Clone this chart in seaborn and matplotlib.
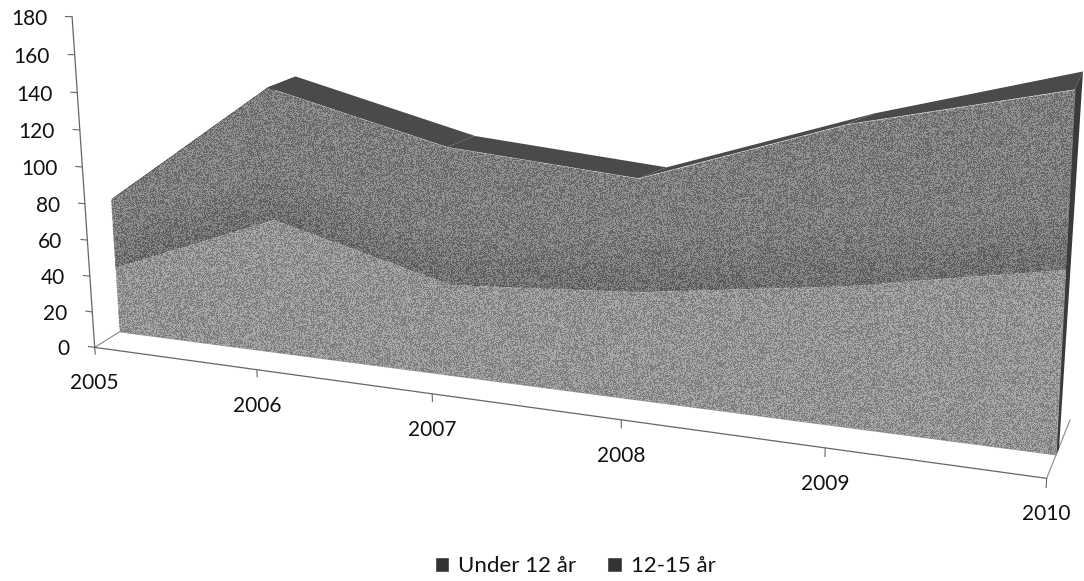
import numpy as np
import matplotlib
matplotlib.use("Agg")
import matplotlib.pyplot as plt
from matplotlib.patches import Patch, Polygon
from matplotlib.transforms import Transform
import seaborn as sns

years = [2005, 2006, 2007, 2008, 2009, 2010]
under_12 = [37, 72, 47, 53, 65, 81]
age_12_15 = [38, 69, 69, 54, 72, 75]
y_ticks = [0, 20, 40, 60, 80, 100, 120, 140, 160, 180]
series_names = ["Under 12 år", "12-15 år"]

sns.set_theme(style="white")
plt.rcParams["font.family"] = ["Lato", "DejaVu Sans"]

# Camera of the 3D view: (year fraction, depth, value fraction) -> pixel
cal_world = np.array([[0, 0, 0], [1, 0, 0], [0, 0, 1], [0, 1, 0], [1, 1, 0], [1, 1, 155 / 180],
                      [0.2, 0, 0], [0.4, 0, 0], [0.6, 0, 0], [0.8, 0, 0]], float)
cal_pixel = np.array([[93, 347], [1046, 477], [72, 18], [120, 331], [1055, 458], [1075, 90],
                      [256, 369], [434, 393], [622, 419], [826, 447]], float)
cal_weight = [5, 5, 5, 5, 5, 5, 1, 1, 1, 1]
# where each year really sits along the axis of the picture
year_along_axis = [0, 0.213, 0.42, 0.62, 0.813, 1]
A, b = [], []
for (u, d, h), (px, py), wt in zip(cal_world, cal_pixel, cal_weight):
    A.append(np.array([u, d, h, 1, 0, 0, 0, 0, -px * u, -px * d, -px * h]) * wt); b.append(px * wt)
    A.append(np.array([0, 0, 0, 0, u, d, h, 1, -py * u, -py * d, -py * h]) * wt); b.append(py * wt)
P = np.append(np.linalg.lstsq(np.array(A), np.array(b), rcond=None)[0], 1).reshape(3, 4)


class Camera(Transform):
    input_dims = output_dims = 2
    is_separable = False

    def __init__(self, plane):
        super().__init__()
        self.plane = plane

    def transform_non_affine(self, xy):
        xy = np.asarray(xy, float)
        u = np.interp(xy[:, 0], years, year_along_axis) + np.minimum(xy[:, 0] - years[0], 0) / 5
        h = xy[:, 1] / y_ticks[-1]
        w = np.column_stack([u, np.full(len(u), self.plane), h, np.ones(len(u))])
        q = w @ P.T
        return q[:, :2] / q[:, 2:]


fig = plt.figure(figsize=(10.84, 5.81), dpi=100)
ax = fig.add_axes([0, 0, 1, 1])
ax.set_xlim(0, 1084)
ax.set_ylim(581, 0)
ax.set_autoscale_on(False)
ax.axis("off")

FRONT = 1.0
x = np.array(years, float)
low = np.array(under_12, float)
top = low + np.array(age_12_15, float)
zero = np.zeros(len(x))
on = lambda d: Camera(d) + ax.transData
LINE = "#666666"

# floor edges
for yr in (years[0], years[-1]):
    end = Camera(2.6).transform(np.array([[yr, 0.0]]))[0]
    start = Camera(0.0).transform(np.array([[yr, 0.0]]))[0]
    ax.plot([start[0], end[0]], [start[1], end[1]], color="#888888", lw=0.8, zorder=1)

# top surface and end wall of the area (receding in the picture's own depth direction)
cf = Camera(FRONT).transform(np.column_stack([x, top]))
recede = np.array([[28, -11]] * (len(x) - 1) + [[8, -18]], float)
cb = cf + recede
for i in range(len(x) - 1):
    ax.fill([cf[i, 0], cf[i + 1, 0], cb[i + 1, 0], cb[i, 0]],
            [cf[i, 1], cf[i + 1, 1], cb[i + 1, 1], cb[i, 1]], color="#4a4a4a", lw=0, zorder=2)
wf = Camera(FRONT).transform(np.array([[x[-1], 0], [x[-1], top[-1]]]))
wb = wf + np.array([[3, -6], recede[-1]])
ax.fill([wf[0, 0], wf[1, 0], wb[1, 0], wb[0, 0]], [wf[0, 1], wf[1, 1], wb[1, 1], wb[0, 1]],
        color="#3a3a3a", lw=0, zorder=2)

# front faces, with the soft shading along the boundary of the two series
ax.fill_between(x, low, top, transform=on(FRONT), color="#7c7c7c", lw=0, zorder=3)
ax.fill_between(x, zero, low, transform=on(FRONT), color="#979797", lw=0, zorder=3)
for extra in range(3, 27, 3):
    ax.fill_between(x, low, low + extra, transform=on(FRONT), color="black", alpha=0.012, lw=0, zorder=3)

# speckled grain of the printed surface
yy, xx = np.mgrid[0:581, 0:1084]
speck = np.sin(xx * 12.9898 + yy * 78.233) * 43758.5453
speck = speck - np.floor(speck)
grain = np.zeros((581, 1084, 4))
grain[..., 3] = 0.17
grain[..., :3] = (speck > 0.5)[..., None]
outline = Camera(FRONT).transform(np.column_stack([np.r_[x, x[::-1]], np.r_[top, zero]]))
clip = Polygon(outline, closed=True, transform=ax.transData, fc="none", ec="none")
ax.add_patch(clip)
im = ax.imshow(grain, extent=(0, 1084, 581, 0), interpolation="nearest", aspect="auto", zorder=3.5)
im.set_clip_path(clip)
ax.set_xlim(0, 1084)
ax.set_ylim(581, 0)

# axes
sns.lineplot(x=years, y=[0] * len(years), ax=ax, transform=on(0.0), color=LINE, lw=0.9,
             legend=False, errorbar=None, zorder=4)
ax.plot([years[0], years[0]], [0, y_ticks[-1]], transform=on(0.0), color=LINE, lw=0.9, zorder=4)
for v in y_ticks:
    ax.plot([years[0] - 0.045, years[0]], [v, v], transform=on(0.0), color=LINE, lw=0.8, zorder=4)
    p = Camera(0.0).transform(np.array([[years[0], float(v)]]))[0]
    ax.annotate(str(v), xy=p, xytext=(-25, -2), textcoords="offset pixels", ha="right", va="center",
                fontsize=15, color="#111111", zorder=5)
for yr in years:
    ax.plot([yr, yr], [0, -4], transform=on(0.0), color=LINE, lw=0.8, zorder=4)
    p = Camera(0.0).transform(np.array([[float(yr), 0.0]]))[0]
    ax.annotate(str(yr), xy=p, xytext=(0, -36), textcoords="offset pixels", ha="center", va="center",
                fontsize=15, color="#111111", zorder=5)

handles = [Patch(facecolor="#333333", label=series_names[0]), Patch(facecolor="#333333", label=series_names[1])]
ax.legend(handles=handles, loc="center", bbox_to_anchor=(575 / 1084, 1 - 566 / 581), ncol=2, frameon=False,
          fontsize=16, handlelength=0.65, handleheight=0.65, handletextpad=0.4, columnspacing=1.4,
          labelcolor="#111111")

fig.savefig("out.png", dpi=100)
